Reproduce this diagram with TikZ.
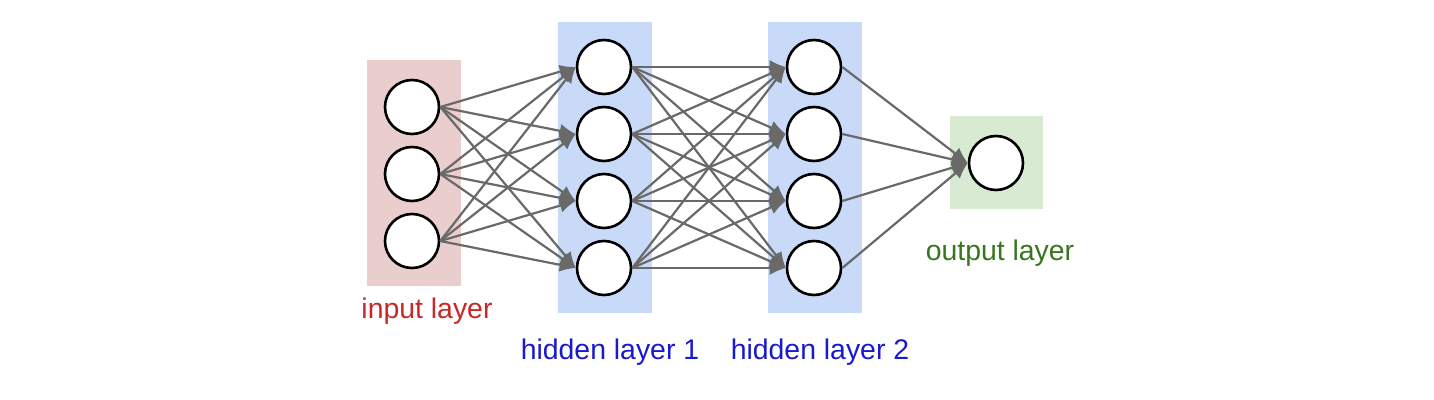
\documentclass[tikz,border=0pt]{standalone}
\usepackage{fontspec}
\setmainfont{Liberation Sans}
\usetikzlibrary{arrows.meta, positioning}
\definecolor{inbg}{RGB}{234,205,205}
\definecolor{hidbg}{RGB}{201,218,248}
\definecolor{outbg}{RGB}{217,234,211}
\definecolor{inred}{RGB}{200,40,40}
\definecolor{hidblue}{RGB}{25,25,205}
\definecolor{outgreen}{RGB}{56,118,29}
\definecolor{edgegray}{RGB}{105,105,105}
\tikzset{
  neuron/.style={circle,draw=black,line width=1.3pt,fill=white,minimum size=27pt,inner sep=0pt},
  link/.style={draw=edgegray,line width=1.1pt,-{Latex[length=8pt,width=7pt]}},
  lbl/.style={font=\fontsize{14.2}{17}\selectfont}
}
\begin{document}
\begin{tikzpicture}[x=0.5pt,y=-0.5pt]
\useasboundingbox (0,0) rectangle (1434,400);
% layer backgrounds
\fill[inbg] (367,60) rectangle (461,286);
\fill[hidbg] (558,22) rectangle (652,313);
\fill[hidbg] (768,22) rectangle (862,313);
\fill[outbg] (950,116) rectangle (1043,209);
% neurons
\foreach \i/\y in {1/107,2/174,3/241} {
  \node[neuron] (in\i) at (412,\y) {};
}
\foreach \i/\y in {1/67,2/134,3/201,4/268} {
  \node[neuron] (ha\i) at (604,\y) {};
  \node[neuron] (hb\i) at (814,\y) {};
}
\node[neuron] (out) at (996,163) {};
% connections
\foreach \a in {1,2,3} {
  \foreach \b in {1,...,4} {
    \draw[link] (in\a.east) -- (ha\b.west);
  }
}
\foreach \a in {1,...,4} {
  \foreach \b in {1,...,4} {
    \draw[link] (ha\a.east) -- (hb\b.west);
  }
  \draw[link] (hb\a.east) -- (out.west);
}
% labels
\node[lbl,text=inred] (inlbl) at (427,311) {input layer};
\node[lbl,text=hidblue] (halbl) at (610,352) {hidden layer 1};
\node[lbl,text=hidblue] (hblbl) at (820,352) {hidden layer 2};
\node[lbl,text=outgreen] (outlbl) at (1000,253) {output layer};
\end{tikzpicture}
\end{document}
